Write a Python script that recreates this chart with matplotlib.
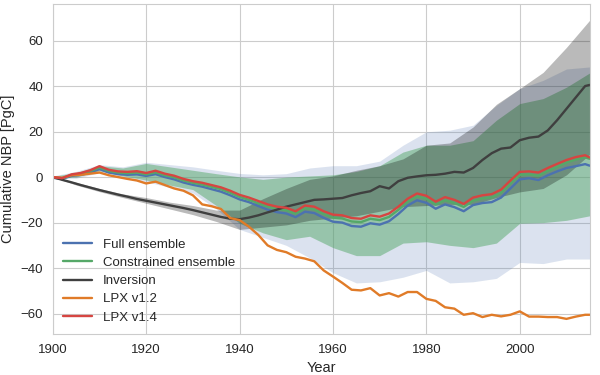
import numpy as np
import matplotlib
matplotlib.use("Agg")
import matplotlib.pyplot as plt
import seaborn as sns

# --- data ---
years = list(range(1900, 2015, 2)) + [2015]

lpx14 = [0, -0.5, 1.2, 1.8, 3, 4.8, 3.2, 2.5, 2.3, 2.6,
         1.8, 2.8, 1.5, 0.6, -0.8, -1.8, -2.5, -3.5, -4.5, -6,
         -7.8, -9, -10.5, -12, -13, -13.5, -15, -12.5, -13, -15,
         -16.5, -16.8, -18, -18.3, -16.8, -17.4, -16, -13, -9.5, -7.2,
         -8.2, -10.8, -8.8, -10, -11.8, -9, -8, -7.5, -5.5, -1.5,
         2.3, 2.5, 2, 4, 5.8, 7.5, 8.8, 9.6, 8.6]
full = [-0.3, -0.8, 0.5, 1, 2, 3.5, 2, 1.3, 1, 1.2,
        0.5, 1.3, 0, -1, -2.4, -3.4, -4.2, -5.3, -6.4, -8,
        -9.8, -11, -12.7, -14.3, -15.4, -16, -17.6, -15.2, -15.8, -17.9,
        -19.6, -20, -21.5, -21.8, -20.3, -20.9, -19.4, -16.2, -12.5, -10.2,
        -11.3, -13.9, -12, -13.2, -15, -12.3, -11.4, -11, -9, -5,
        -1, -0.5, -1.3, 0.8, 2.5, 4, 4.8, 5.7, 5]
constrained = [-0.1, -0.6, 0.9, 1.5, 2.6, 4.2, 2.7, 2, 1.7, 2,
               1.2, 2.1, 0.8, -0.1, -1.5, -2.5, -3.3, -4.3, -5.3, -6.9,
               -8.7, -10, -11.5, -13, -14, -14.6, -16.1, -13.7, -14.2, -16.2,
               -17.8, -18.2, -19.5, -19.8, -18.3, -18.9, -17.5, -14.4, -10.8, -8.5,
               -9.5, -12.1, -10.2, -11.4, -13.1, -10.4, -9.4, -8.9, -6.9, -2.9,
               1, 1.2, 0.6, 2.7, 4.5, 6.4, 7.7, 8.7, 8]
lpx12 = [0, -0.3, 0.8, 1, 1.5, 2, 0.8, 0, -0.8, -1.5,
         -2.8, -2, -3.5, -5, -6, -8, -12, -12.8, -14, -18,
         -18.9, -21.8, -25.4, -30, -32, -33, -35, -35.8, -37, -41,
         -43.7, -46.5, -49.5, -49.8, -48.8, -52, -51, -52.5, -50.5, -50.5,
         -53.5, -54.4, -57.2, -57.8, -60.5, -59.8, -61.5, -60.5, -61.2, -60.5,
         -59, -61.3, -61.3, -61.5, -61.5, -62.3, -61.3, -60.5, -60.5]
inversion = [0, -1.2, -2.3, -3.5, -4.6, -5.7, -6.7, -7.7, -8.6, -9.6,
             -10.4, -11.2, -12, -12.8, -13.6, -14.5, -15.5, -16.5, -17.5, -18.3,
             -18.5, -17.8, -16.8, -15.5, -14.3, -13, -12, -11, -10, -9.8,
             -9.5, -9.2, -8, -7, -6.2, -4, -5, -1.8, -0.3, 0.3,
             0.8, 1, 1.5, 2.3, 2, 4, 7.5, 10.5, 12.5, 13,
             16.2, 17.3, 17.8, 20.5, 25, 30, 35, 40, 40.5]

band_years = list(range(1900, 2016, 5))
full_hi = [0.5, 2.5, 5.5, 4.5, 6.5, 5.5, 4.5, 3, 1.6, 1,
           1.5, 4, 5, 5, 7, 14, 19.9, 20.6, 22.8, 31.5,
           38.9, 42.5, 47.5, 48.4]
full_lo = [-0.5, -0.5, 2, -0.5, -2, -4.5, -7, -14, -23, -26.5,
           -30, -35.5, -42, -46.5, -46, -44, -41, -46.5, -46, -44.5,
           -37.5, -38, -36, -36]
cons_hi = [0.3, 2, 5, 4, 6, 4.5, 3, 1.5, 0.1, -1,
           0, 0.5, 1, 2.5, 5, 11, 14, 14, 16, 25,
           32.3, 34.5, 39.5, 45.8]
cons_lo = [-0.3, 0, 2.8, 0.5, -1.3, -3.5, -5.5, -12.5, -20.3, -24.5,
           -27.5, -26, -31, -34.5, -34.5, -29, -28.4, -30, -31, -29,
           -20.3, -20, -19, -17]
inv_hi = [0, -2.3, -5, -7.4, -9, -11, -12.5, -14.5, -14.5, -9.5,
          -5, -1, 0.5, 3, 5, 8, 14, 15, 22, 32,
          38.9, 46, 57, 69]
inv_lo = [0, -3.5, -6.4, -9, -11.5, -14, -16.5, -19.5, -23, -22,
          -21, -19, -18, -17, -15, -13, -12.5, -12, -12, -9,
          -6.5, -5, 1, 10]

# --- style ---
sns.set_style("whitegrid")
plt.rcParams["font.family"] = ["Liberation Sans", "DejaVu Sans"]
plt.rcParams["text.color"] = ".15"
plt.rcParams["axes.labelcolor"] = ".15"
plt.rcParams["xtick.color"] = ".15"
plt.rcParams["ytick.color"] = ".15"

c_blue = "#4c72b0"
c_green = "#55a868"
c_black = "#3f3f3f"
c_orange = "#e07b28"
c_red = "#d64541"

fig = plt.figure(figsize=(6, 3.75), dpi=100)
ax = fig.add_axes([0.088, 0.109, 0.895, 0.88])

# bands
ax.fill_between(band_years, full_lo, full_hi, color=c_blue, alpha=0.2, lw=0)
ax.fill_between(band_years, cons_lo, cons_hi, color=c_green, alpha=0.5, lw=0)
ax.fill_between(band_years, inv_lo, inv_hi, color="black", alpha=0.27, lw=0)

# lines
lw = 1.7
ax.plot(years, full, color=c_blue, lw=lw, label="Full ensemble")
ax.plot(years, constrained, color=c_green, lw=lw, label="Constrained ensemble")
ax.plot(years, inversion, color=c_black, lw=lw, label="Inversion")
ax.plot(years, lpx12, color=c_orange, lw=lw, label="LPX v1.2")
ax.plot(years, lpx14, color=c_red, lw=lw, label="LPX v1.4")

ax.set_xlim(1900, 2015)
ax.set_ylim(-69, 76)
ax.set_xticks(range(1900, 2001, 20))
ax.set_yticks(range(-60, 61, 20))
ax.tick_params(labelsize=9.5)
ax.set_xlabel("Year", fontsize=10.5)
ax.set_ylabel("Cumulative NBP [PgC]", fontsize=10.5)

ax.legend(loc="lower left", frameon=False, fontsize=9.5,
          handlelength=2.2, labelspacing=0.45, borderaxespad=0.4)

fig.savefig("out.png", dpi=100)
